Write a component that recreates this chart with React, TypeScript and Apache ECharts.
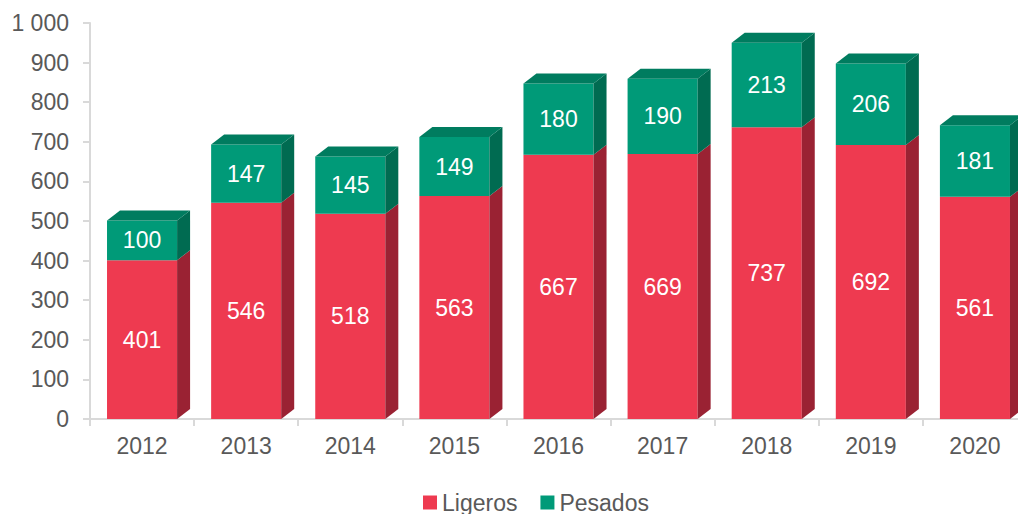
import React, { useEffect, useRef } from "react";
import * as echarts from "echarts";

const years = ["2012", "2013", "2014", "2015", "2016", "2017", "2018", "2019", "2020"];
const ligeros = [401, 546, 518, 563, 667, 669, 737, 692, 561];
const pesados = [100, 147, 145, 149, 180, 190, 213, 206, 181];
const yTicks = [0, 100, 200, 300, 400, 500, 600, 700, 800, 900, 1000];

const FONT = "'Liberation Sans', Arial, sans-serif";
const TEXT = "#595959";
const AXIS = "#D9D9D9";
const DX = 13;
const DY = 10;

function makeRender(front: string, side: string, topC: string, drawTop: boolean) {
  return (params: any, api: any) => {
    const idx = api.value(0);
    const base = api.value(1);
    const top = api.value(2);
    const label = api.value(3);
    const pB = api.coord([idx, base]);
    const pT = api.coord([idx, top]);
    const bandW = api.size([1, 0])[0];
    const w = bandW * 0.673;
    const x0 = pB[0] - w / 2;
    const x1 = x0 + w;
    const yB = pB[1];
    const yT = pT[1];
    const children: any[] = [
      {
        type: "rect",
        shape: { x: x0, y: yT, width: w, height: yB - yT },
        style: { fill: front },
      },
      {
        type: "polygon",
        shape: { points: [[x1, yB], [x1 + DX, yB - DY], [x1 + DX, yT - DY], [x1, yT]] },
        style: { fill: side },
      },
    ];
    if (drawTop) {
      children.push({
        type: "polygon",
        shape: { points: [[x0, yT], [x0 + DX, yT - DY], [x1 + DX, yT - DY], [x1, yT]] },
        style: { fill: topC },
      });
    }
    children.push({
      type: "text",
      x: (x0 + x1) / 2,
      y: (yB + yT) / 2,
      style: {
        text: String(label),
        fill: "#FFFFFF",
        font: `23px ${FONT}`,
        align: "center",
        verticalAlign: "middle",
      },
    });
    return { type: "group", children };
  };
}

export default function App() {
  const ref = useRef<HTMLDivElement>(null);
  useEffect(() => {
    document.body.style.margin = "0";
    document.body.style.overflow = "hidden";
    if (!ref.current) return;
    const chart = echarts.init(ref.current, null, { renderer: "svg" });
    const ligData = years.map((_, i) => [i, 0, ligeros[i], ligeros[i]]);
    const pesData = years.map((_, i) => [i, ligeros[i], ligeros[i] + pesados[i], pesados[i]]);
    chart.setOption({
      animation: false,
      grid: { left: 90, right: 3, top: 23, bottom: 95 },
      legend: {
        data: ["Ligeros", "Pesados"],
        left: 423,
        top: 491,
        padding: 0,
        icon: "rect",
        itemWidth: 14,
        itemHeight: 14,
        itemGap: 23,
        textStyle: { color: TEXT, fontSize: 23, fontFamily: FONT },
      },
      xAxis: {
        type: "category",
        data: years,
        boundaryGap: true,
        axisLine: { show: true, lineStyle: { color: AXIS, width: 2 } },
        axisTick: { show: true, length: 7, lineStyle: { color: AXIS, width: 2 } },
        axisLabel: { color: TEXT, fontSize: 23, fontFamily: FONT, margin: 15 },
        splitLine: { show: false },
      },
      yAxis: {
        type: "value",
        min: yTicks[0],
        max: yTicks[yTicks.length - 1],
        interval: 100,
        axisLine: { show: true, lineStyle: { color: AXIS, width: 2 } },
        axisTick: { show: true, length: 7, lineStyle: { color: AXIS, width: 2 } },
        axisLabel: {
          color: TEXT,
          fontSize: 23,
          fontFamily: FONT,
          margin: 21,
          formatter: (v: number) => (v >= 1000 ? String(v).replace(/\B(?=(\d{3})+(?!\d))/g, " ") : String(v)),
        },
        splitLine: { show: false },
      },
      series: [
        {
          name: "Ligeros",
          type: "custom",
          itemStyle: { color: "#EE3A50" },
          encode: { x: 0, y: [1, 2] },
          data: ligData,
          renderItem: makeRender("#EE3A50", "#9A2233", "#B52B3D", false),
        },
        {
          name: "Pesados",
          type: "custom",
          itemStyle: { color: "#009A78" },
          encode: { x: 0, y: [1, 2] },
          data: pesData,
          renderItem: makeRender("#009A78", "#006B51", "#007C5F", true),
        },
      ],
    });
    return () => chart.dispose();
  }, []);
  return (
    <div style={{ width: 1018, height: 514, overflow: "hidden" }}>
      <div ref={ref} style={{ width: 1030, height: 514 }} />
    </div>
  );
}
